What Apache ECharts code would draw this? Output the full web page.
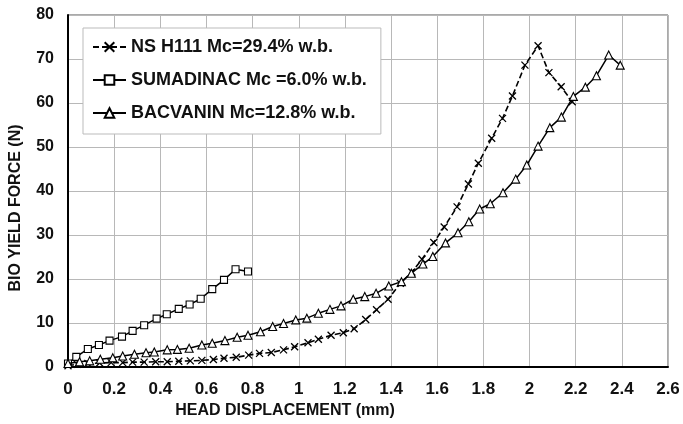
<!DOCTYPE html>
<html>
<head>
<meta charset="utf-8">
<script src="https://cdn.jsdelivr.net/npm/echarts@6/dist/echarts.min.js"></script>
<style>
html,body{margin:0;padding:0;background:#fff;}
#c{width:683px;height:424px;}
</style>
</head>
<body>
<div id="c"></div>
<script>
const xTicks = [0, 0.2, 0.4, 0.6, 0.8, 1, 1.2, 1.4, 1.6, 1.8, 2, 2.2, 2.4, 2.6];
const yTicks = [0, 10, 20, 30, 40, 50, 60, 70, 80];

const seriesNames = ['NS H111 Mc=29.4% w.b.', 'SUMADINAC Mc =6.0% w.b.', 'BACVANIN Mc=12.8% w.b.'];

const nsX = [0, 0.04, 0.086, 0.137, 0.187, 0.237, 0.28, 0.33, 0.38, 0.43, 0.48, 0.53, 0.58, 0.63, 0.676, 0.729, 0.783, 0.83, 0.881, 0.934, 0.982, 1.04, 1.085, 1.14, 1.193, 1.24, 1.29, 1.337, 1.387, 1.44, 1.49, 1.534, 1.585, 1.63, 1.686, 1.735, 1.778, 1.836, 1.883, 1.926, 1.98, 2.037, 2.084, 2.137, 2.185];
const nsY = [0.3, 0.6, 0.8, 0.9, 1.0, 1.0, 1.1, 1.1, 1.2, 1.2, 1.3, 1.4, 1.5, 1.7, 2.0, 2.2, 2.7, 3.1, 3.3, 3.9, 4.6, 5.5, 6.3, 7.2, 7.8, 8.7, 10.8, 13.0, 15.4, 19.0, 21.6, 24.5, 28.3, 31.8, 36.4, 41.6, 46.3, 52.0, 56.5, 61.6, 68.6, 73.0, 66.9, 63.7, 60.3];

const sumX = [0, 0.036, 0.086, 0.134, 0.18, 0.234, 0.28, 0.33, 0.384, 0.428, 0.48, 0.527, 0.575, 0.625, 0.676, 0.726, 0.78];
const sumY = [0.8, 2.3, 4.1, 5.0, 6.0, 6.9, 8.2, 9.5, 11.0, 12.0, 13.2, 14.2, 15.5, 17.7, 19.8, 22.2, 21.7];

const bacX = [0, 0.05, 0.094, 0.14, 0.194, 0.237, 0.288, 0.338, 0.374, 0.43, 0.474, 0.525, 0.58, 0.625, 0.68, 0.733, 0.78, 0.834, 0.887, 0.934, 0.987, 1.035, 1.085, 1.135, 1.183, 1.236, 1.286, 1.335, 1.39, 1.445, 1.488, 1.538, 1.581, 1.636, 1.69, 1.737, 1.784, 1.83, 1.885, 1.94, 1.988, 2.037, 2.088, 2.138, 2.19, 2.242, 2.29, 2.343, 2.393];
const bacY = [0.8, 1.2, 1.4, 1.75, 2.1, 2.5, 2.9, 3.25, 3.4, 3.9, 4.0, 4.25, 5.0, 5.4, 6.0, 6.75, 7.2, 8.0, 9.2, 9.9, 10.7, 11.1, 12.2, 13.1, 13.9, 15.4, 16.0, 16.75, 18.4, 19.4, 21.3, 23.4, 25.1, 28.2, 30.5, 33.0, 35.9, 37.1, 39.6, 42.7, 45.9, 50.2, 54.4, 56.8, 61.5, 63.6, 66.2, 70.9, 68.6];

function pairs(xs, ys) { return xs.map((x, i) => [x, ys[i]]); }

const FONT = 'Liberation Sans, Arial, sans-serif';
const chart = echarts.init(document.getElementById('c'), null, {renderer: 'canvas'});
chart.setOption({
  animation: false,
  backgroundColor: '#fff',
  grid: {left: 65, right: 15, top: 15, bottom: 57, show: true, borderColor: '#555', borderWidth: 1},
  legend: {
    orient: 'vertical',
    left: 83, top: 28,
    padding: [9, 14, 11, 9],
    itemWidth: 33, itemHeight: 12, itemGap: 13,
    backgroundColor: '#fff',
    borderColor: '#bbb', borderWidth: 1,
    textStyle: {fontFamily: FONT, fontSize: 18, lineHeight: 20, fontWeight: 'bold', color: '#111'},
    data: seriesNames
  },
  xAxis: {
    type: 'value', min: 0, max: 2.6, interval: 0.2,
    name: 'HEAD DISPLACEMENT (mm)', nameLocation: 'middle', nameGap: 27,
    nameTextStyle: {fontFamily: FONT, fontSize: 16, fontWeight: 'bold', color: '#111', padding: [0, 166, 0, 0]},
    axisLine: {lineStyle: {color: '#000', width: 2}},
    axisTick: {show: false},
    axisLabel: {fontFamily: FONT, fontSize: 17, fontWeight: 'bold', color: '#111', margin: 14,
      formatter: v => String(+v.toFixed(1))},
    splitLine: {lineStyle: {color: '#b8b8b8', width: 1}}
  },
  yAxis: {
    type: 'value', min: 0, max: 80, interval: 10,
    name: 'BIO YIELD FORCE (N)', nameLocation: 'middle', nameGap: 44,
    nameTextStyle: {fontFamily: FONT, fontSize: 16, fontWeight: 'bold', color: '#111', padding: [0, 34, 0, 0]},
    axisLine: {show: true, lineStyle: {color: '#000', width: 2}},
    axisTick: {show: false},
    axisLabel: {fontFamily: FONT, fontSize: 16, fontWeight: 'bold', color: '#111', margin: 14},
    splitLine: {lineStyle: {color: '#b8b8b8', width: 1}}
  },
  series: [
    {
      name: seriesNames[0], type: 'line', data: pairs(nsX, nsY),
      symbol: 'path://M0,0L10,10M10,0L0,10', symbolSize: 7,
      lineStyle: {color: '#000', width: 1.6, type: [6, 3]},
      itemStyle: {color: 'rgba(0,0,0,0)', borderColor: '#000', borderWidth: 1.3},
      z: 3
    },
    {
      name: seriesNames[1], type: 'line', data: pairs(sumX, sumY),
      symbol: 'rect', symbolSize: 7,
      lineStyle: {color: '#000', width: 1.5},
      itemStyle: {color: '#fff', borderColor: '#000', borderWidth: 1.1},
      z: 4
    },
    {
      name: seriesNames[2], type: 'line', data: pairs(bacX, bacY),
      symbol: 'triangle', symbolSize: 8,
      lineStyle: {color: '#000', width: 1.5},
      itemStyle: {color: '#fff', borderColor: '#000', borderWidth: 1.1},
      z: 5
    }
  ]
});
</script>
</body>
</html>
